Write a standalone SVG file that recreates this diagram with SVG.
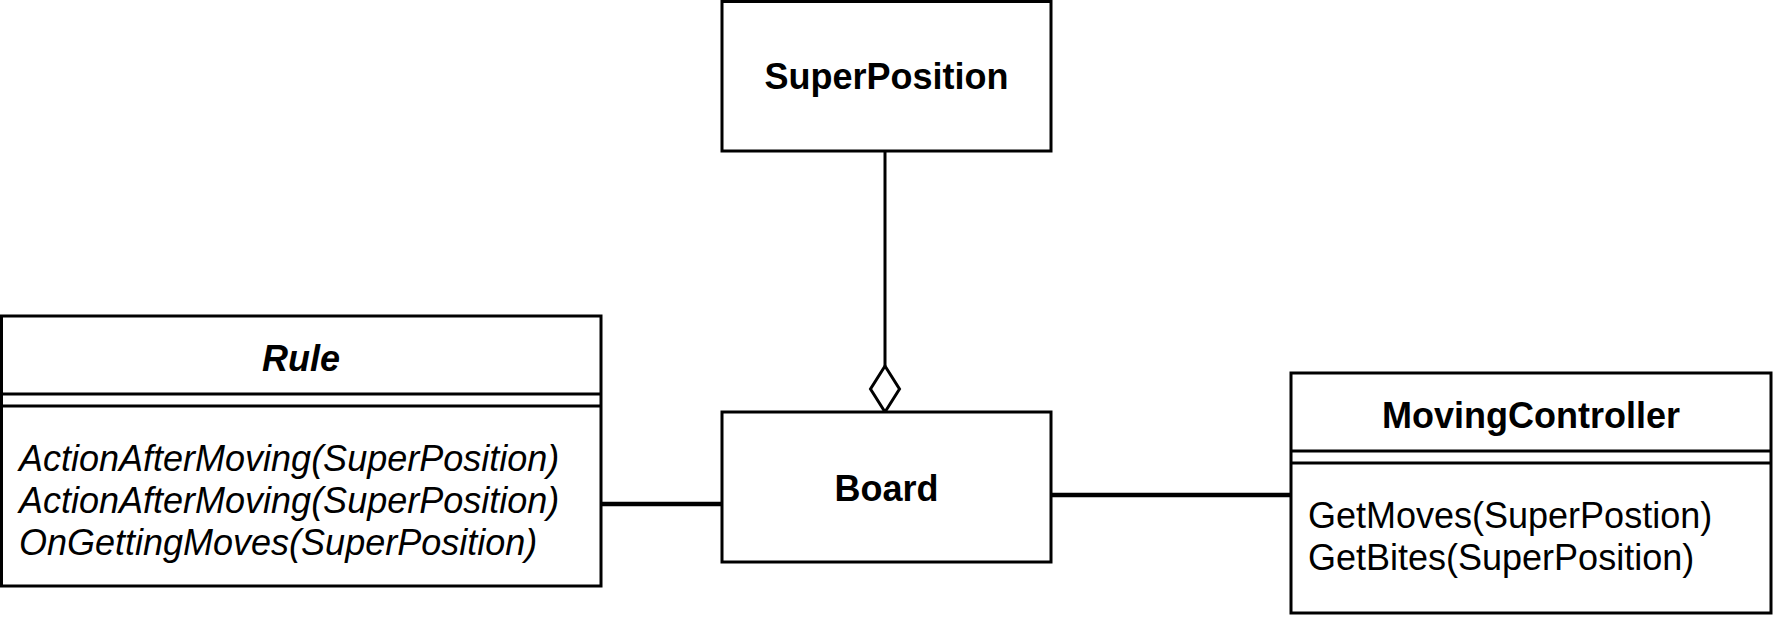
<svg xmlns="http://www.w3.org/2000/svg" width="1776" height="624" viewBox="0 0 1776 624">
<style>
.box{fill:#fff;stroke:#000;stroke-width:3}
.sep{stroke:#000;stroke-width:3;fill:none}
.conn{stroke:#000;stroke-width:4.5;fill:none}
.title{font-family:"Liberation Sans",Arial,sans-serif;font-size:36px;font-weight:bold;text-anchor:middle;fill:#000}
.meth{font-family:"Liberation Sans",Arial,sans-serif;font-size:36px;fill:#000}
.it{font-style:italic}
</style>
<rect width="1776" height="624" fill="#fff"/>
<g id="connectors">
<line class="conn" x1="885" y1="151" x2="885" y2="366" style="stroke-width:3"/>
<path d="M885 366 L899.5 389 L885 412 L870.5 389 Z" fill="#fff" stroke="#000" stroke-width="3"/>
<line class="conn" x1="601" y1="504" x2="722" y2="504"/>
<line class="conn" x1="1051" y1="495" x2="1291" y2="495"/>
</g>
<g id="SuperPosition">
<rect class="box" x="722" y="1.5" width="329" height="149.5"/>
<text class="title" x="886.5" y="89">SuperPosition</text>
</g>
<g id="Board">
<rect class="box" x="722" y="412" width="329" height="150"/>
<text class="title" x="886.5" y="501">Board</text>
</g>
<g id="Rule">
<rect class="box" x="1.5" y="316" width="599.5" height="270"/>
<line class="sep" x1="1.5" y1="394" x2="601" y2="394"/>
<line class="sep" x1="1.5" y1="406" x2="601" y2="406"/>
<text class="title it" x="301" y="371">Rule</text>
<text class="meth it" x="19" y="471">ActionAfterMoving(SuperPosition)</text>
<text class="meth it" x="19" y="513">ActionAfterMoving(SuperPosition)</text>
<text class="meth it" x="19" y="555">OnGettingMoves(SuperPosition)</text>
</g>
<g id="MovingController">
<rect class="box" x="1291" y="373" width="480" height="240"/>
<line class="sep" x1="1291" y1="451" x2="1771" y2="451"/>
<line class="sep" x1="1291" y1="463" x2="1771" y2="463"/>
<text class="title" x="1531" y="428">MovingController</text>
<text class="meth" x="1308" y="528">GetMoves(SuperPostion)</text>
<text class="meth" x="1308" y="570">GetBites(SuperPosition)</text>
</g>
</svg>
